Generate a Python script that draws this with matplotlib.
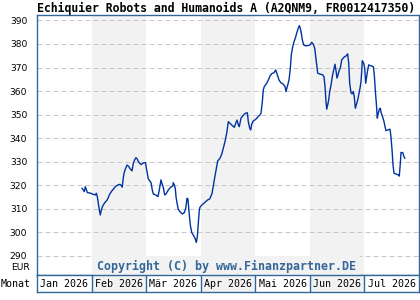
import matplotlib
matplotlib.use("Agg")
import matplotlib.pyplot as plt

title = "Echiquier Robots and Humanoids A (A2QNM9, FR0012417350)"
months = ["Jan 2026", "Feb 2026", "Mär 2026", "Apr 2026", "Mai 2026", "Jun 2026", "Jul 2026"]
yticks = [290, 300, 310, 320, 330, 340, 350, 360, 370, 380, 390]

# x in month units (0 = start of Jan 2026)
t = [0.825, 0.848, 0.867, 0.885, 0.903, 0.922, 0.990, 1.021, 1.068, 1.087, 1.105, 1.123, 1.142,
     1.160, 1.178, 1.204, 1.241, 1.277, 1.301, 1.325, 1.362, 1.398, 1.435, 1.479, 1.521, 1.545,
     1.563, 1.576, 1.594, 1.618, 1.649, 1.680, 1.710, 1.741, 1.765, 1.790, 1.814, 1.838, 1.864,
     1.906, 1.952, 1.988, 2.010, 2.040, 2.089, 2.113, 2.131, 2.175, 2.217, 2.241, 2.272, 2.291,
     2.314, 2.340, 2.364, 2.406, 2.450, 2.487, 2.498, 2.516, 2.534, 2.547, 2.566, 2.589, 2.620,
     2.663, 2.699, 2.725, 2.749, 2.767, 2.785, 2.809, 2.835, 2.864, 2.895, 2.919, 2.938, 2.956,
     2.974, 2.987, 3.024, 3.079, 3.128, 3.165, 3.207, 3.262, 3.311, 3.354, 3.385, 3.414, 3.445,
     3.476, 3.506, 3.537, 3.568, 3.616, 3.641, 3.665, 3.689, 3.707, 3.738, 3.769, 3.799, 3.824,
     3.854, 3.872, 3.898, 3.916, 3.934, 3.964, 4.008, 4.055, 4.087, 4.105, 4.129, 4.147, 4.165,
     4.209, 4.239, 4.270, 4.301, 4.343, 4.374, 4.404, 4.435, 4.466, 4.514, 4.545, 4.563, 4.587,
     4.618, 4.642, 4.660, 4.686, 4.710, 4.733, 4.759, 4.783, 4.807, 4.825, 4.843, 4.862, 4.887,
     4.917, 4.961, 5.003, 5.034, 5.063, 5.089, 5.107, 5.126, 5.144, 5.186, 5.235, 5.259, 5.278,
     5.296, 5.309, 5.327, 5.345, 5.364, 5.388, 5.411, 5.437, 5.461, 5.479, 5.497, 5.516, 5.540,
     5.558, 5.583, 5.626, 5.662, 5.693, 5.712, 5.730, 5.754, 5.772, 5.796, 5.814, 5.833, 5.851,
     5.877, 5.901, 5.919, 5.937, 5.950, 5.961, 5.987, 6.005, 6.023, 6.042, 6.060, 6.078, 6.121,
     6.163, 6.181, 6.199, 6.218, 6.236, 6.254, 6.273, 6.291, 6.309, 6.335, 6.359, 6.377, 6.396,
     6.427, 6.469, 6.487, 6.506, 6.524, 6.542, 6.579, 6.621, 6.639, 6.658, 6.670, 6.702, 6.720,
     6.739]

price = [318.7, 318.0, 317.3, 319.4, 318.3, 316.9, 316.6, 316.2, 315.9, 316.6, 315.2, 312.4, 309.5,
         307.4, 309.5, 311.2, 312.6, 313.5, 314.5, 315.9, 317.3, 318.3, 319.4, 320.1, 320.4, 319.9,
         319.2, 322.3, 325.1, 326.8, 328.6, 328.0, 326.9, 326.1, 329.4, 330.8, 331.7, 331.1, 329.8,
         328.8, 329.5, 329.6, 326.5, 322.7, 321.1, 318.0, 316.3, 315.9, 315.2, 318.0, 322.3, 320.6,
         319.2, 315.9, 316.3, 318.0, 319.2, 319.7, 321.1, 320.1, 318.7, 315.2, 312.4, 309.8, 308.8,
         307.8, 308.4, 310.2, 314.5, 314.1, 308.8, 303.2, 299.9, 298.9, 297.5, 295.7, 298.2, 303.9,
         309.5, 310.7, 311.7, 312.8, 313.8, 314.2, 316.5, 324.0, 330.3, 331.5, 333.2, 335.7, 338.5,
         342.1, 347.0, 346.3, 345.6, 344.6, 346.3, 347.7, 345.6, 344.9, 348.5, 349.4, 350.2, 350.6,
         350.8, 347.0, 344.2, 343.5, 345.9, 347.3, 348.0, 349.2, 349.9, 350.6, 355.5, 360.5, 361.9,
         363.3, 364.7, 366.4, 367.4, 367.8, 369.0, 366.9, 364.7, 363.6, 362.9, 361.9, 359.8, 361.9,
         364.7, 369.7, 375.4, 378.9, 381.0, 382.4, 384.6, 386.4, 387.8, 386.7, 384.6, 381.7, 379.6,
         379.2, 379.3, 379.6, 380.7, 379.9, 378.2, 374.6, 370.4, 367.6, 367.2, 366.9, 366.1, 361.9,
         355.5, 352.3, 354.1, 356.2, 359.8, 362.6, 366.1, 369.0, 371.4, 368.7, 365.5, 366.9, 369.0,
         369.7, 373.2, 374.4, 374.9, 375.8, 371.8, 363.3, 359.3, 358.8, 359.8, 357.6, 352.7, 354.1,
         356.2, 359.1, 361.2, 364.0, 368.3, 372.9, 371.8, 369.7, 363.3, 366.1, 369.0, 371.1, 370.7,
         370.4, 366.9, 360.5, 354.8, 348.5, 350.6, 352.3, 352.7, 350.6, 348.9, 347.0, 344.9, 343.2,
         343.5, 343.8, 340.4, 335.0, 328.6, 325.1, 324.8, 324.4, 323.9, 329.4, 333.9, 333.9, 332.5,
         331.5]

frame_c = "#336699"
band_c = "#f2f2f2"
line_c = "#0033a0"
mono = "DejaVu Sans Mono"

W, H = 420, 300
fig = plt.figure(figsize=(W / 100, H / 100), dpi=100)
fig.patch.set_facecolor("white")

ax = fig.add_axes([37 / W, 25 / H, 382 / W, 260 / H])
ax.set_xlim(0, len(months))
ax.set_ylim(281.9, 392.3)
for i in range(1, len(months), 2):
    ax.axvspan(i, i + 1, color=band_c, lw=0, zorder=0)
for v in yticks:
    ax.axhline(v, color="#c8c8c8", lw=0.72, dashes=(5, 3), zorder=1)
ax.plot(t, price, color=line_c, lw=1.0, zorder=3)
ax.set_xticks([])
ax.set_yticks(yticks)
ax.set_yticklabels([str(v) for v in yticks], fontsize=6.6, family="DejaVu Sans")
ax.tick_params(axis="y", length=0, pad=7)
for s in ax.spines.values():
    s.set_color(frame_c)
    s.set_linewidth(1.0)

ax.text((91.7 + 365 - 74) / 2 / 382 * 0 + 0.497, 0.033, "Copyright (C) by www.Finanzpartner.DE",
        transform=ax.transAxes, ha="center", va="center", fontsize=8.4, family=mono,
        fontweight="bold", color=frame_c, zorder=4,
        bbox=dict(facecolor=band_c, edgecolor="none", pad=2.5))

# month row
mx = fig.add_axes([37 / W, 8 / H, 382 / W, 17 / H])
mx.set_xlim(0, len(months))
mx.set_ylim(0, 1)
for i, m in enumerate(months):
    if i % 2 == 1:
        mx.axvspan(i, i + 1, color=band_c, lw=0, zorder=0)
    if i > 0:
        mx.axvline(i, color=frame_c, lw=1.0)
    mx.text(i + 0.5, 0.45, m, ha="center", va="center", fontsize=7.2, family=mono)
mx.set_xticks([])
mx.set_yticks([])
for s in mx.spines.values():
    s.set_color(frame_c)
    s.set_linewidth(1.0)

fig.text(37 / W, 1 - 8 / H, title, ha="left", va="center", fontsize=8.3, family=mono,
         fontweight="bold")
fig.text(30 / W, 1 - 267 / H, "EUR", ha="right", va="center", fontsize=6.6, family="DejaVu Sans")
fig.text(1 / W, 1 - 284 / H, "Monat", ha="left", va="center", fontsize=7.2, family=mono)

fig.savefig("out.png", dpi=100)
